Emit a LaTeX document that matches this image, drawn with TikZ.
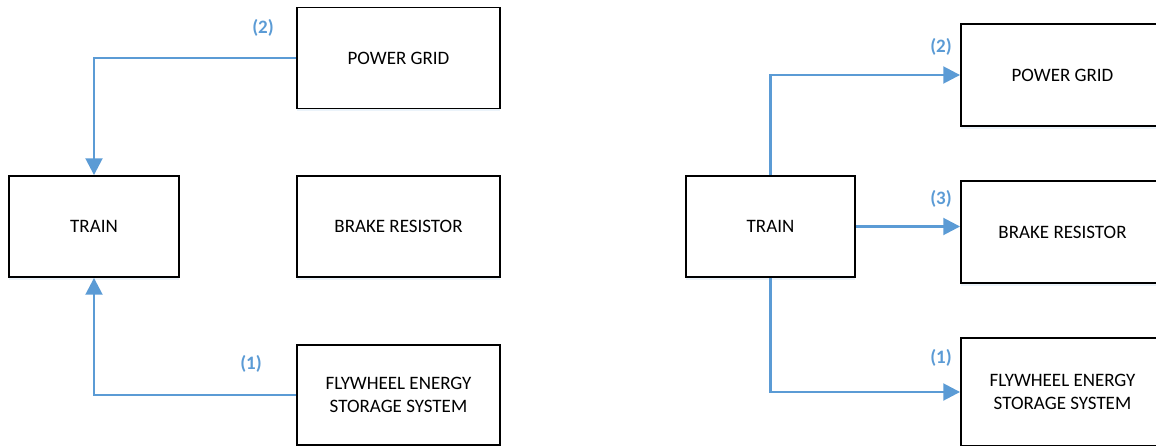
\documentclass[tikz,border=0pt]{standalone}
\usepackage{fontspec}
\setmainfont{Carlito}
\usetikzlibrary{arrows.meta,shadows}
\definecolor{flowblue}{HTML}{5B9BD5}
\tikzset{
  unitbox/.style={draw=black, line width=1.3pt, fill=white, minimum width=5.075cm, minimum height=2.525cm,
    align=center, inner sep=0pt, font=\fontsize{13.5}{16.5}\selectfont,
    drop shadow={shadow xshift=0pt, shadow yshift=-2pt, fill=flowblue!35, opacity=0.35}},
  flow/.style={draw=flowblue, line width=1.9pt, -{Triangle[length=0.42cm, width=0.42cm]}},
  flowlabel/.style={text=flowblue, font=\fontsize{13.5}{15}\selectfont\bfseries, inner sep=0pt},
}
\begin{document}
\begin{tikzpicture}[x=0.025cm, y=-0.025cm]
\useasboundingbox (0,0) rectangle (1156,446);
% left panel
\node[unitbox] (gridL) at (398.5,58) {POWER GRID};
\node[unitbox, minimum width=4.25cm] (trainL) at (94,226.5) {TRAIN};
\node[unitbox] (brakeL) at (398.5,226.5) {BRAKE RESISTOR};
\node[unitbox, minimum height=2.5cm] (flyL) at (398.5,395) {FLYWHEEL ENERGY\\STORAGE SYSTEM};
\draw[flow] (gridL.west) -| (trainL.north);
\draw[flow] (flyL.west) -| (trainL.south);
\node[flowlabel] (lblgridL) at (263,28) {(2)};
\node[flowlabel] (lblflyL) at (251,364) {(1)};
% right panel
\node[unitbox, minimum width=4.225cm] (trainR) at (770.5,226.5) {TRAIN};
\node[unitbox, minimum height=2.55cm] (gridR) at (1062.5,75) {POWER GRID};
\node[unitbox, minimum height=2.55cm] (brakeR) at (1062.5,232) {BRAKE RESISTOR};
\node[unitbox, minimum height=2.7cm] (flyR) at (1062.5,392) {FLYWHEEL ENERGY\\STORAGE SYSTEM};
\draw[flow] (trainR.north) |- (gridR.west);
\draw[flow] (trainR.east) -- (trainR.east -| brakeR.west);
\draw[flow] (trainR.south) |- (flyR.west);
\node[flowlabel] (lblgridR) at (941,47) {(2)};
\node[flowlabel] (lblbrakeR) at (941,199) {(3)};
\node[flowlabel] (lblflyR) at (941,358) {(1)};
\end{tikzpicture}
\end{document}
